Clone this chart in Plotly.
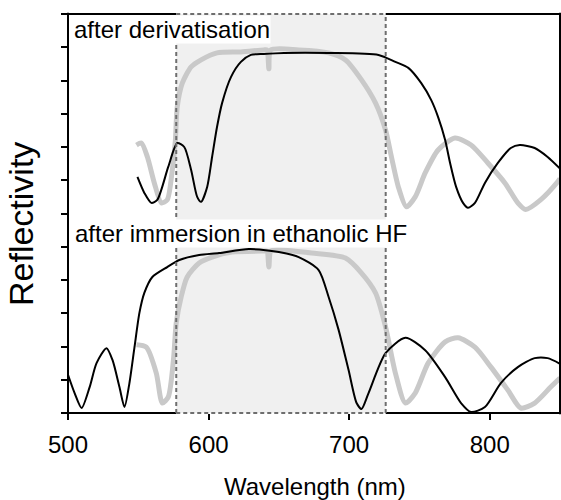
import plotly.graph_objects as go

# ---------------- data ----------------
# top pair: "after derivatisation" (grey = reference spectrum, black = derivatised)
wl_top_grey = [548.7, 552.2, 556.5, 561.4, 566.4, 570.6, 574.2, 576.4, 577.7, 581.3, 587.6,
               594.7, 606.0, 623.0, 639.3, 641.5, 642.9, 644.3, 664.1, 685.4, 697.4, 708.8,
               718.8, 725.9, 730.1, 735.0, 740.7, 747.0, 754.1, 763.3, 775.3, 786.7, 798.7,
               810.8, 820.0, 825.6, 836.2, 848.3, 850.0]
refl_top_grey = [8.06, 8.12, 7.70, 6.92, 6.32, 6.41, 7.31, 8.21, 9.20, 9.92, 10.41,
                 10.62, 10.83, 10.86, 10.92, 10.92, 10.35, 10.92, 10.92, 10.83, 10.62, 10.02,
                 9.32, 8.51, 7.70, 6.80, 6.20, 6.50, 7.22, 7.91, 8.27, 8.06, 7.52,
                 6.92, 6.32, 6.12, 6.41, 6.95, 7.05]

wl_top_black = [549.4, 554.3, 559.3, 563.5, 571.3, 577.7, 582.7, 587.6, 591.9, 594.7, 599.0,
                602.5, 606.0, 609.6, 616.0, 623.0, 630.1, 639.3, 653.5, 685.4, 720.9, 732.9,
                742.1, 751.3, 758.4, 763.3, 768.3, 771.8, 776.1, 781.0, 784.6, 789.5, 796.6,
                805.8, 815.0, 821.4, 832.0, 841.2, 850.0]
refl_top_black = [7.10, 6.62, 6.32, 6.41, 7.40, 8.12, 8.00, 7.31, 6.50, 6.35, 6.80,
                  7.70, 8.60, 9.32, 10.11, 10.56, 10.77, 10.80, 10.83, 10.83, 10.77, 10.56,
                  10.38, 9.92, 9.41, 8.90, 8.21, 7.52, 6.80, 6.32, 6.17, 6.32, 6.92,
                  7.52, 7.97, 8.06, 7.97, 7.70, 7.35]

# bottom pair: "after immersion in ethanolic HF"
wl_bot_grey = [548.7, 555.7, 562.8, 567.1, 571.3, 575.0, 577.0, 580.5, 584.8, 593.3, 602.5,
               616.7, 639.3, 641.5, 642.9, 644.3, 650.0, 673.3, 697.4, 708.8, 718.8, 725.9,
               732.9, 740.0, 747.0, 756.2, 768.3, 777.5, 789.5, 800.9, 812.9, 822.1, 832.0,
               843.4, 850.0]
refl_bot_grey = [2.05, 1.98, 1.20, 0.30, 0.48, 1.59, 2.71, 3.49, 4.09, 4.51, 4.69,
                 4.84, 4.87, 4.87, 4.39, 4.87, 4.90, 4.81, 4.66, 4.21, 3.61, 2.59,
                 1.20, 0.30, 0.60, 1.50, 2.14, 2.26, 1.98, 1.38, 0.69, 0.15, 0.30,
                 0.78, 1.05]

wl_bot_black = [500.0, 504.7, 509.7, 515.4, 520.3, 527.4, 531.7, 536.6, 540.2, 543.7, 547.3,
                550.8, 554.3, 560.0, 570.6, 579.2, 593.3, 607.5, 628.7, 650.0, 664.1, 678.3,
                685.4, 692.5, 699.6, 705.3, 708.8, 713.8, 725.9, 740.0, 754.1, 768.3, 779.6,
                786.7, 796.6, 807.9, 820.0, 832.0, 841.2, 850.0]
refl_bot_black = [1.15, 0.60, 0.15, 0.78, 1.50, 1.95, 1.59, 0.78, 0.18, 0.90, 1.98,
                  3.01, 3.61, 4.09, 4.39, 4.60, 4.75, 4.81, 4.93, 4.84, 4.69, 4.30,
                  3.49, 2.50, 1.29, 0.30, 0.12, 0.60, 1.80, 2.26, 1.89, 1.08, 0.30,
                  0.03, 0.18, 0.90, 1.38, 1.65, 1.65, 1.48]

x_range = [500, 850]
x_ticks = [500, 600, 700, 800]
y_range = [0, 12]
y_ticks = list(range(0, 13))
band = [577, 726]
labels = ["after derivatisation", "after immersion in ethanolic HF"]
x_title = "Wavelength (nm)"
y_title = "Reflectivity"

# ---------------- figure ----------------
FONT = "Liberation Sans, Arial, Helvetica, sans-serif"
GREY = "#c9c9c9"
DASH_COL = "#6e6e6e"

fig = go.Figure()
for wl, rf in [(wl_top_grey, refl_top_grey), (wl_bot_grey, refl_bot_grey)]:
    fig.add_trace(go.Scatter(x=wl, y=rf, mode="lines",
                             line=dict(color=GREY, width=5, shape="spline", smoothing=0.7),
                             showlegend=False, hoverinfo="skip"))
for wl, rf in [(wl_top_black, refl_top_black), (wl_bot_black, refl_bot_black)]:
    fig.add_trace(go.Scatter(x=wl, y=rf, mode="lines",
                             line=dict(color="black", width=2, shape="spline", smoothing=0.7),
                             showlegend=False, hoverinfo="skip"))

# shaded band
fig.add_shape(type="rect", xref="x", yref="paper", x0=band[0], x1=band[1], y0=0, y1=1,
              fillcolor="#f0f0f0", line=dict(width=0), layer="below")

# paper fractions of the band edges
f_lo = (band[0] - x_range[0]) / (x_range[1] - x_range[0])
f_hi = (band[1] - x_range[0]) / (x_range[1] - x_range[0])

# frame (black), interrupted where the dashed band outline lies on it
frame = dict(color="black", width=2)
e = 0.003
fig.add_shape(type="line", xref="paper", yref="paper", x0=0, x1=0, y0=-e, y1=1 + e, line=frame, layer="above")
fig.add_shape(type="line", xref="paper", yref="paper", x0=1, x1=1, y0=-e, y1=1 + e, line=frame, layer="above")
for yy in (0, 1):
    fig.add_shape(type="line", xref="paper", yref="paper", x0=-e, x1=f_lo, y0=yy, y1=yy, line=frame, layer="above")
    fig.add_shape(type="line", xref="paper", yref="paper", x0=f_hi, x1=1 + e, y0=yy, y1=yy, line=frame, layer="above")

# dashed band outline
dash = dict(color=DASH_COL, width=2, dash="4px,3px")
for fx in (f_lo, f_hi):
    fig.add_shape(type="line", xref="paper", yref="paper", x0=fx, x1=fx, y0=0, y1=1, line=dash, layer="above")
for yy in (0, 1):
    fig.add_shape(type="line", xref="paper", yref="paper", x0=f_lo, x1=f_hi, y0=yy, y1=yy, line=dash, layer="above")

# labels with white background
for txt, (lx, ly) in zip(labels, [(503.5, 11.52), (504.0, 5.41)]):
    fig.add_annotation(x=lx, y=ly, xref="x", yref="y", text=txt, showarrow=False,
                       xanchor="left", yanchor="middle", bgcolor="white", borderpad=0,
                       font=dict(family=FONT, size=24, color="black"))

# axis titles
fig.add_annotation(x=(315 - 68) / 492, y=(413 - 486) / 399, xref="paper", yref="paper",
                   text=x_title, showarrow=False, xanchor="center", yanchor="middle",
                   font=dict(family=FONT, size=24, color="black"))
fig.add_annotation(x=(21 - 68) / 492, y=(413 - 224) / 399, xref="paper", yref="paper",
                   text=y_title, textangle=-90, showarrow=False, xanchor="center", yanchor="middle",
                   font=dict(family=FONT, size=34, color="black"))

fig.update_xaxes(range=x_range, tickvals=x_ticks, ticks="outside", ticklen=6, tickwidth=2,
                 tickcolor="black", showline=False, showgrid=False, zeroline=False,
                 tickfont=dict(family=FONT, size=24, color="black"), ticklabelstandoff=4)
fig.update_yaxes(range=y_range, tickvals=y_ticks, ticks="outside", ticklen=6, tickwidth=2,
                 tickcolor="black", showline=False, showgrid=False, zeroline=False,
                 showticklabels=False)

fig.update_layout(width=561, height=500, margin=dict(l=68, r=1, t=14, b=87, autoexpand=False),
                  plot_bgcolor="white", paper_bgcolor="white",
                  font=dict(family=FONT, color="black"))

fig.write_html("out.html", config={"displayModeBar": False},
               post_script="document.body.style.margin='0';document.body.style.overflow='hidden';")
